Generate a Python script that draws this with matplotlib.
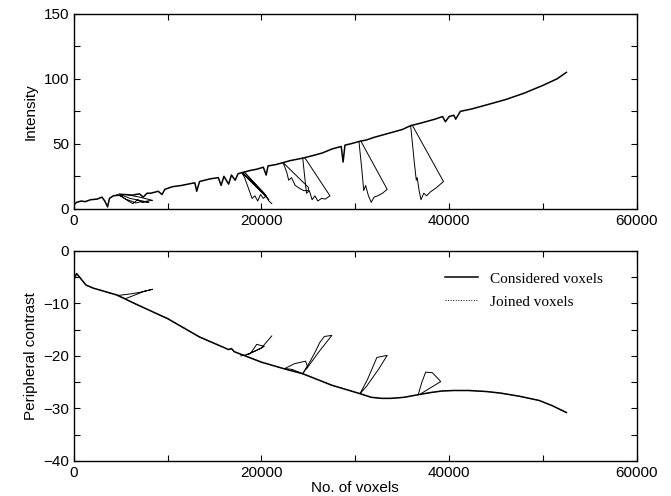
import matplotlib
matplotlib.use("Agg")
import matplotlib.pyplot as plt
from matplotlib.ticker import MultipleLocator

# ---- top panel: intensity ----
int_x = [0, 300, 800, 1200, 1800, 2500, 3000, 3300, 3600, 3800, 4200, 4800, 5500, 6200,
         7000, 7400, 7800, 8200, 9000, 9400, 9700, 10500, 11500, 12500, 12900, 13100, 13400,
         14500, 15400, 15700, 16000, 16500, 16800, 17200, 17500, 18000, 18800, 19500, 20200,
         20500, 20700, 21500, 22300, 23000, 24400, 25500, 26500, 27500, 28500, 28700, 28900,
         29500, 30500, 31200, 32000, 33500, 35000, 35900, 37000, 38500, 39300, 39600, 40000,
         40500, 40700, 41200, 42500, 44000, 46000, 48000, 50000, 51500, 52500]
int_y = [3, 5, 6, 5.5, 7, 7.5, 9, 6, 1.5, 8, 10, 10.5, 11, 10.5,
         11.5, 9, 12, 12, 13.5, 11, 15, 17, 18, 19.5, 20, 13.5, 21,
         23, 24, 18, 25, 19, 26, 22, 27, 28, 29.5, 30.5, 32,
         26, 33, 34, 35.5, 37, 39, 41, 43, 46, 48, 36, 49,
         50, 52, 53, 55, 58, 61, 64, 66, 69, 71, 67, 71,
         72, 69, 75, 77, 80, 84, 89, 95, 100, 105]

# excursions of joined voxels (top)
int_loops = [
    ([4600, 5200, 5800, 6300, 6800, 7300, 7800, 8400, 7000, 5600, 4800, 6000, 8000, 7200,
      6600, 6100, 5500, 5000],
     [11, 9, 6, 4, 7, 5, 6, 6.5, 9, 11, 11.5, 8, 5, 5.5, 4.5, 6, 7.5, 10]),
    ([17900, 18200, 18500, 18800, 19000, 19300, 19600, 19900, 20200, 20500, 17900, 20800,
      18200, 20300, 20800, 21100],
     [28, 24, 18, 12, 8, 10, 6, 11, 8, 10, 28, 7, 28, 12, 6, 4]),
    ([22300, 22700, 22900, 23200, 23600, 24000, 24500, 25000, 25000, 22300],
     [35.6, 28, 22, 24, 18, 16, 14, 14, 16.5, 35.6]),
    ([24400, 24600, 24800, 25100, 25400, 25700, 26000, 26400, 26800, 27300, 24600],
     [39, 25, 12, 14, 7, 10, 6, 8, 7.5, 10, 39.5]),
    ([30400, 30700, 30900, 31100, 31400, 31700, 32000, 32400, 32900, 33400, 30600],
     [51, 30, 14, 18, 10, 5, 9, 10, 12, 15, 52]),
    ([35900, 36300, 36500, 36600, 36800, 37000, 37300, 37600, 38000, 38600, 39400, 36100],
     [64, 35, 22, 24, 14, 7, 12, 10, 13, 16, 21, 64]),
]

# ---- bottom panel: peripheral contrast ----
pc_x = [0, 300, 1300, 2100, 4600, 6700, 10000, 13400, 16500, 16800, 17100, 20000, 22500,
        24400, 27500, 30500, 31700, 32800, 33800, 35200, 36700, 38000, 39200, 40500, 42100,
        44000, 45500, 47500, 49600, 51000, 52500]
pc_y = [-5.5, -4.3, -6.5, -7.1, -8.4, -10.2, -12.9, -16.4, -18.8, -18.6, -19.2, -21.2, -22.5,
        -23.4, -25.6, -27.2, -27.9, -28.1, -28.1, -27.9, -27.4, -27.0, -26.7, -26.6, -26.6,
        -26.8, -27.1, -27.7, -28.5, -29.5, -30.8]

pc_loops = [
    ([4600, 6000, 7000, 8400, 7500, 6500, 5500, 4800],
     [-8.5, -8.2, -7.9, -7.3, -7.7, -8.4, -9.1, -8.6]),
    ([17800, 18800, 19500, 20300, 19200, 18400, 20000, 21100],
     [-20.0, -19.6, -17.8, -18.2, -19.2, -19.8, -18.5, -16.2]),
    ([22500, 23500, 24700, 24900, 24400, 23300, 22500],
     [-22.4, -21.5, -21.0, -22.0, -23.4, -22.6, -22.4]),
    ([24400, 25200, 25800, 26200, 26700, 27500, 26000, 24800],
     [-23.4, -21.0, -19.0, -17.5, -16.3, -16.1, -19.5, -22.5]),
    ([30500, 31300, 32300, 33400, 32500, 31200, 30600],
     [-27.2, -24.5, -20.3, -19.9, -22.5, -25.8, -27.0]),
    ([36700, 37100, 37500, 38200, 38700, 39100, 37000],
     [-27.4, -25.0, -23.1, -23.2, -24.1, -24.9, -27.2]),
]

plt.rcParams['font.family'] = ['Liberation Sans', 'DejaVu Sans']
plt.rcParams['font.size'] = 11

fig = plt.figure(figsize=(6.71, 4.96), dpi=100)
ax1 = fig.add_axes([0.110, 0.579, 0.839, 0.393])
ax2 = fig.add_axes([0.110, 0.071, 0.839, 0.423])

lw = 1.1
ax1.plot(int_x, int_y, color='black', lw=lw)
for lx, ly in int_loops:
    ax1.plot(lx, ly, color='black', lw=0.7)

ax2.plot(pc_x, pc_y, color='black', lw=lw, label='Considered voxels')
ax2.plot(pc_x, pc_y, color='black', lw=0.7, ls=':', label='Joined voxels')
for lx, ly in pc_loops:
    ax2.plot(lx, ly, color='black', lw=0.7)

ax1.set_xlim(0, 60000)
ax1.set_ylim(0, 150)
ax1.yaxis.set_major_locator(MultipleLocator(50))
ax1.yaxis.set_minor_locator(MultipleLocator(25))
ax1.set_ylabel('Intensity')

ax2.set_xlim(0, 60000)
ax2.set_ylim(-40, 0)
ax2.yaxis.set_major_locator(MultipleLocator(10))
ax2.yaxis.set_minor_locator(MultipleLocator(5))
ax2.set_ylabel('Peripheral contrast')
ax2.set_xlabel('No. of voxels', labelpad=1)

for ax in (ax1, ax2):
    ax.xaxis.set_major_locator(MultipleLocator(20000))
    ax.xaxis.set_minor_locator(MultipleLocator(10000))
    ax.tick_params(which='both', direction='in', top=True, right=True)
    ax.tick_params(which='major', length=4, width=0.8)
    ax.tick_params(which='minor', length=4, width=0.8)
    for s in ax.spines.values():
        s.set_linewidth(1.0)

ax2.legend(loc='upper right', frameon=False, bbox_to_anchor=(0.965, 0.965),
           prop={'family': 'Liberation Serif', 'size': 11}, handlelength=2.2,
           labelspacing=0.6)

fig.savefig('out.png', dpi=100)
